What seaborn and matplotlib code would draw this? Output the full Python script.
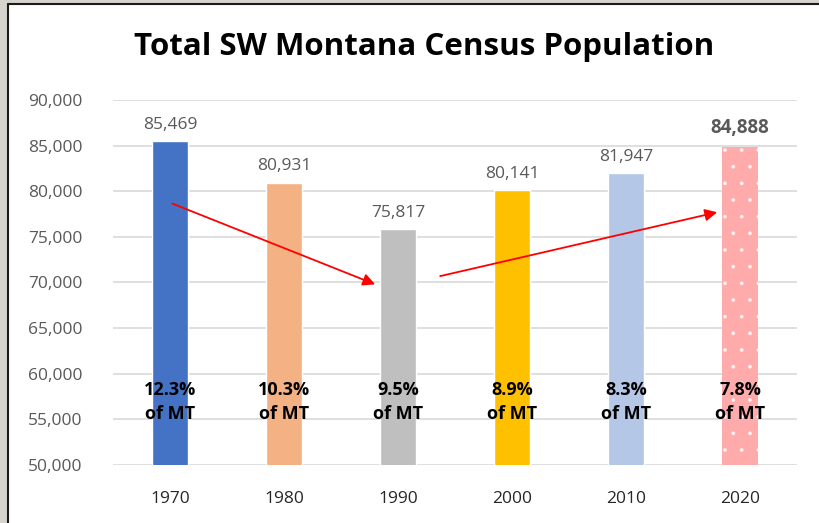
import matplotlib
matplotlib.use("Agg")
import matplotlib.pyplot as plt
import seaborn as sns
import pandas as pd
from matplotlib.patches import Rectangle
from matplotlib.lines import Line2D

years = ["1970", "1980", "1990", "2000", "2010", "2020"]
population = [85469, 80931, 75817, 80141, 81947, 84888]
pct_of_mt = ["12.3%", "10.3%", "9.5%", "8.9%", "8.3%", "7.8%"]
colors = ["#4472C4", "#F4B183", "#BFBFBF", "#FFC000", "#B4C7E7", "#FFABAB"]
y_ticks = [50000, 55000, 60000, 65000, 70000, 75000, 80000, 85000, 90000]

sns.set_theme(style="white")
plt.rcParams["font.family"] = ["Open Sans", "DejaVu Sans"]
plt.rcParams["hatch.color"] = "#FFF4F4"
plt.rcParams["hatch.linewidth"] = 0.2

df = pd.DataFrame({"year": years, "population": population})

fig = plt.figure(figsize=(8.19, 5.23), dpi=100)
ax = fig.add_axes([113 / 819, 1 - 465 / 523, (797 - 113) / 819, (465 - 100) / 523])

sns.barplot(data=df, x="year", y="population", hue="year", palette=colors,
            legend=False, width=0.32, ax=ax, saturation=1)

# hatch last bar with white dots
last = ax.patches[-1]
last.set_hatch(".")
last.set_edgecolor("#FFF4F4")
last.set_linewidth(0)

ax.set_ylim(50000, 90000)
ax.set_yticks(y_ticks)
ax.set_yticklabels([f"{v:,}" for v in y_ticks], color="#595959", fontsize=12.5)
ax.set_xlabel("")
ax.set_ylabel("")
ax.tick_params(axis="x", labelsize=12.5, pad=19, length=0)
ax.tick_params(axis="y", length=0, pad=22)
for lab in ax.get_xticklabels():
    lab.set_color("#262626")
ax.grid(axis="y", color="#D9D9D9", linewidth=1.2)
ax.set_axisbelow(True)
for s in ax.spines.values():
    s.set_visible(False)
ax.set_xlim(-0.5, 5.5)

# value labels
for i, v in enumerate(population):
    if i == len(population) - 1:
        ax.annotate(f"{v:,}", (i, v), xytext=(0, 6), textcoords="offset points",
                    ha="center", va="bottom", fontsize=13.5, fontweight="bold", color="#595959")
    else:
        ax.annotate(f"{v:,}", (i, v), xytext=(0, 6), textcoords="offset points",
                    ha="center", va="bottom", fontsize=12.5, color="#595959")

# percent labels
for i, p in enumerate(pct_of_mt):
    ax.text(i, 56900, f"{p}\nof MT", ha="center", va="center", fontsize=13,
            fontweight="bold", color="black", linespacing=1.45)

# trend arrows
arrow_kw = dict(arrowstyle="-|>", color="#FF0000", lw=1.3, mutation_scale=18,
                shrinkA=0, shrinkB=0)
ax.annotate("", xy=(1.80, 69800), xytext=(0.02, 78650), arrowprops=arrow_kw)
ax.annotate("", xy=(4.80, 77700), xytext=(2.37, 70700), arrowprops=arrow_kw)

fig.suptitle("Total SW Montana Census Population", x=424 / 819, y=1 - 47 / 523,
             va="center", fontsize=22.5, fontweight="bold", color="black")

# window frame
fig.patches.append(Rectangle((0, 0), 7 / 819, 1, transform=fig.transFigure,
                             facecolor="#D6D3CE", edgecolor="none"))
fig.patches.append(Rectangle((0, 1 - 3 / 523), 1, 3 / 523, transform=fig.transFigure,
                             facecolor="#D6D3CE", edgecolor="none"))
fig.lines.append(Line2D([7.5 / 819, 7.5 / 819], [0, 1 - 3.5 / 523], transform=fig.transFigure,
                        color="#1A1A1A", lw=1.5))
fig.lines.append(Line2D([7.5 / 819, 1], [1 - 3.5 / 523, 1 - 3.5 / 523], transform=fig.transFigure,
                        color="#1A1A1A", lw=1.5))

fig.savefig("out.png", dpi=100)
